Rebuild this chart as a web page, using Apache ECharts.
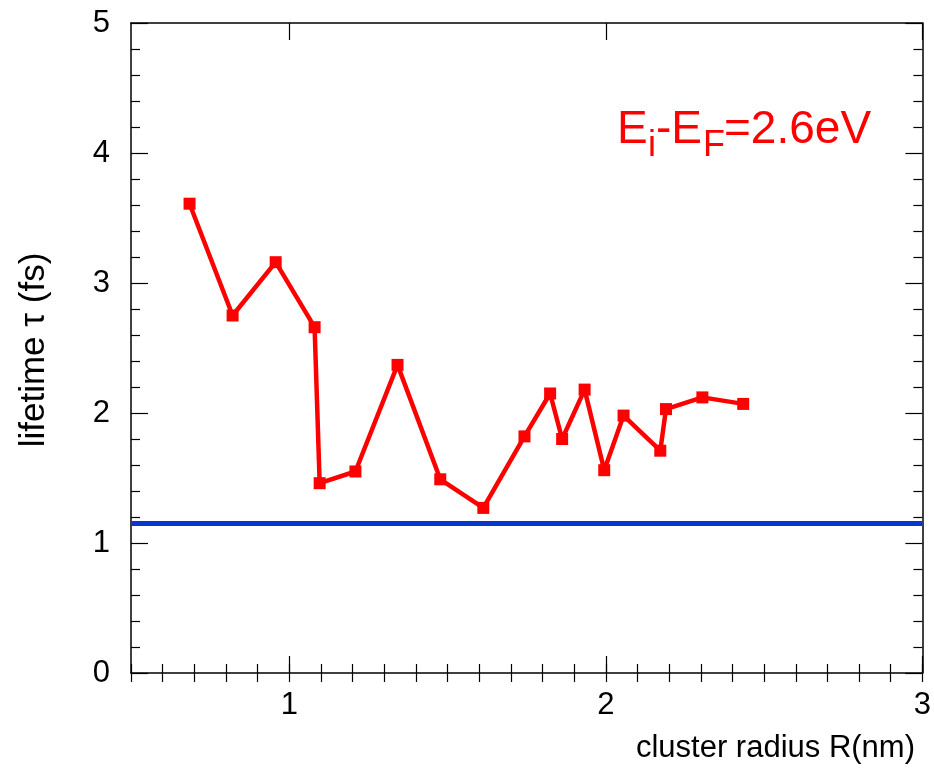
<!DOCTYPE html>
<html>
<head>
<meta charset="utf-8">
<script src="https://cdn.jsdelivr.net/npm/echarts@6/dist/echarts.min.js"></script>
<style>
  html, body { margin: 0; padding: 0; background: #fff; }
  #main { width: 934px; height: 775px; }
</style>
</head>
<body>
<div id="main"></div>
<script>
  // cluster radius R (nm)
  const radius = [0.685, 0.821, 0.957, 1.080, 1.096, 1.209, 1.342, 1.477, 1.613, 1.743,
                  1.824, 1.862, 1.933, 1.995, 2.056, 2.172, 2.190, 2.305, 2.434]
  // lifetime tau (fs)
  const lifetime = [3.61, 2.75, 3.16, 2.66, 1.46, 1.55, 2.37, 1.49, 1.27, 1.82,
                    2.15, 1.80, 2.18, 1.56, 1.98, 1.71, 2.03, 2.12, 2.07]
  // horizontal reference level (fs)
  const refLevel = 1.15
  const xRange = [0.5, 3]
  const yRange = [0, 5]
  const xMajorTicks = [1, 2, 3]

  const font = 'Liberation Sans, Arial, Helvetica, sans-serif'
  const chart = echarts.init(document.getElementById('main'))

  const axisBase = {
    type: 'value', min: xRange[0], max: xRange[1],
    splitLine: { show: false },
    axisLine: { show: true, onZero: false, lineStyle: { color: '#000', width: 1.5 } }
  }
  // major ticks (at 1,2,3) and minor ticks (every 0.1) come from two stacked axes
  const xMajor = (pos, labels) => Object.assign({}, axisBase, {
    position: pos, interval: 0.5,
    axisTick: { show: true, inside: true, length: 17, customValues: xMajorTicks,
      lineStyle: { color: '#000', width: 1.2 } },
    axisLabel: { show: labels, customValues: xMajorTicks, margin: 17, color: '#000',
      fontSize: 31, fontFamily: font }
  })
  const xMinor = (pos) => Object.assign({}, axisBase, {
    position: pos, interval: 0.1,
    axisLine: { show: false },
    axisTick: { show: true, inside: true, length: 9, lineStyle: { color: '#000', width: 1.2 } },
    axisLabel: { show: false }
  })
  const yAx = (pos, labels) => ({
    type: 'value', position: pos, min: yRange[0], max: yRange[1], interval: 1,
    splitLine: { show: false },
    axisLine: { show: true, onZero: false, lineStyle: { color: '#000', width: 1.5 } },
    axisTick: { show: true, inside: true, length: 17, lineStyle: { color: '#000', width: 1.2 } },
    minorTick: { show: true, splitNumber: 5, length: 9, lineStyle: { color: '#000', width: 1.2 } },
    axisLabel: { show: labels, margin: 21, color: '#000', fontSize: 31, fontFamily: font }
  })

  const option = {
    animation: false,
    backgroundColor: '#fff',
    grid: { left: 131, right: 11, top: 23, bottom: 102, containLabel: false },
    xAxis: [xMajor('bottom', true), xMinor('bottom'), xMajor('top', false), xMinor('top')],
    yAxis: [yAx('left', true), yAx('right', false)],
    series: [
      {
        name: 'reference', type: 'line', xAxisIndex: 0, yAxisIndex: 0,
        data: [[xRange[0], refLevel], [xRange[1], refLevel]],
        showSymbol: false, symbol: 'none',
        lineStyle: { color: '#0a35cf', width: 5 }
      },
      {
        name: 'lifetime', type: 'line', xAxisIndex: 0, yAxisIndex: 0,
        data: radius.map((r, i) => [r, lifetime[i]]),
        symbol: 'rect', symbolSize: 12,
        itemStyle: { color: '#ff0000' },
        lineStyle: { color: '#ff0000', width: 4.5 }
      }
    ],
    graphic: [
      { type: 'text', x: 915, y: 748, style: { text: 'cluster radius R(nm)', fill: '#000',
          font: '31px ' + font, align: 'right', verticalAlign: 'middle' } },
      { type: 'text', x: 34, y: 350, rotation: Math.PI / 2, style: { text: 'lifetime τ (fs)', fill: '#000',
          font: '35px ' + font, align: 'center', verticalAlign: 'middle' } },
      // E_i-E_F=2.6eV annotation
      { type: 'text', x: 617, y: 130, style: { text: 'E', fill: '#ff0000', font: '46px ' + font, verticalAlign: 'middle' } },
      { type: 'text', x: 648, y: 146, style: { text: 'i', fill: '#ff0000', font: '36px ' + font, verticalAlign: 'middle' } },
      { type: 'text', x: 656, y: 130, style: { text: '-E', fill: '#ff0000', font: '46px ' + font, verticalAlign: 'middle' } },
      { type: 'text', x: 703, y: 146, style: { text: 'F', fill: '#ff0000', font: '36px ' + font, verticalAlign: 'middle' } },
      { type: 'text', x: 724, y: 130, style: { text: '=2.6eV', fill: '#ff0000', font: '46px ' + font, verticalAlign: 'middle' } }
    ]
  }
  chart.setOption(option)
</script>
</body>
</html>
